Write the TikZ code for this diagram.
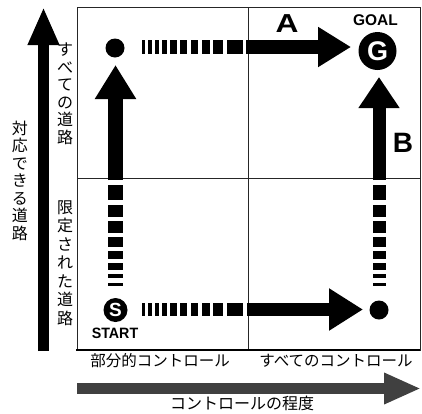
\documentclass[tikz,border=0pt]{standalone}
\usepackage{fontspec}
\setmainfont{Liberation Sans}
\newfontfamily\jp{Noto Sans CJK JP}
\usetikzlibrary{arrows.meta}
\begin{document}
\begin{tikzpicture}[x=1pt,y=-1pt,
  frame/.style={line width=0.9pt,black!85},
  jplabel/.style={font=\jp\fontsize{15.5}{17.5}\selectfont,inner sep=0pt},
  vlabel/.style={font=\jp\fontsize{16}{17.5}\selectfont,inner sep=0pt,align=center},
  dotnode/.style={circle,fill=black,minimum size=19pt,inner sep=0pt},
  bigarrow/.style={line width=11pt,-{Triangle[length=38pt,width=29pt]}},
  routearrow/.style={black},
  dashbit/.style={fill=black},
  bold/.style={font=\bfseries\fontsize{#1}{#1}\selectfont,inner sep=0pt}
]
\useasboundingbox (0,0) rectangle (422,413);

% frame
\draw[frame] (77,7) rectangle (420,350);
\draw[frame] (248,7) -- (248,350);
\draw[frame] (77,178) -- (420,178);
\draw[line width=1.6pt] (76,350) -- (420.4,350);

% axes
\coordinate (ybot) at (43.5,351);
\coordinate (ytop) at (43.5,7);
\draw[bigarrow,black] (ybot) -- (ytop);
\coordinate (xleft) at (77,388.5);
\coordinate (xright) at (421,388.5);
\draw[bigarrow,black!75,-{Triangle[length=37pt,width=29pt]}] (xleft) -- (xright);

% nodes
\node[dotnode] (tl) at (115,48) {};
\node[dotnode] (br) at (379,310) {};
\node[circle,fill=black,minimum size=38pt,inner sep=0pt,text=white,bold=27] (goal) at (377.5,51) {G};
\node[bold=15.5] (goaltxt) at (375.5,20.5) {GOAL};
\node[circle,fill=black,minimum size=24pt,inner sep=0pt,text=white,bold=19] (start) at (115.5,310) {S};
\node[bold=15,xscale=0.95] (starttxt) at (115,333.5) {START};
\node[bold=26,xscale=1.22] (A) at (287,24) {A};
\node[bold=28] (B) at (403,143) {B};

% route arrows (solid parts)
\coordinate (upS) at (115.5,180);
\coordinate (upT) at (115.5,65);
\draw[routearrow,line width=15pt,-{Triangle[length=34pt,width=39pt]}] (upS) -- (upT);
\coordinate (aS) at (246,47);
\coordinate (aT) at (351,47);
\draw[routearrow,line width=14pt,-{Triangle[length=33pt,width=38pt]}] (aS) -- (aT);
\coordinate (bS) at (379,180);
\coordinate (bT) at (379,77);
\draw[routearrow,line width=13pt,-{Triangle[length=31pt,width=39pt]}] (bS) -- (bT);
\coordinate (cS) at (247,309.5);
\coordinate (cT) at (363,309.5);
\draw[routearrow,line width=13pt,-{Triangle[length=34pt,width=40pt]}] (cS) -- (cT);

% dashed parts
\foreach \a/\b in {142/145,148/152,155/159,162/167,170/177,180/187,191/198,202/210,213/223,227/243}{
  \fill[dashbit] (\a,40) rectangle (\b,54);
  \fill[dashbit] (\a,303) rectangle (\b,316);
}
\foreach \a/\b in {185/200,205/217,221/233,237/247,251/259,263/270,274/278,283/286}{
  \fill[dashbit] (108,\a) rectangle (123,\b);
  \fill[dashbit] (372.5,\a) rectangle (385.5,\b);
}

% labels
\node[vlabel] (ylab) at (20,180.5) {対\\応\\で\\き\\る\\道\\路};
\node[vlabel] (yall) at (65,94) {す\\べ\\て\\の\\道\\路};
\node[vlabel,font=\jp\fontsize{16}{18.5}\selectfont] (ylim) at (65,263) {限\\定\\さ\\れ\\た\\道\\路};
\node[jplabel] (xpart) at (160,361) {部分的コントロール};
\node[jplabel] (xall) at (336,361) {すべてのコントロール};
\node[jplabel,font=\jp\fontsize{16}{18}\selectfont] (xlab) at (242,403) {コントロールの程度};
\end{tikzpicture}
\end{document}
